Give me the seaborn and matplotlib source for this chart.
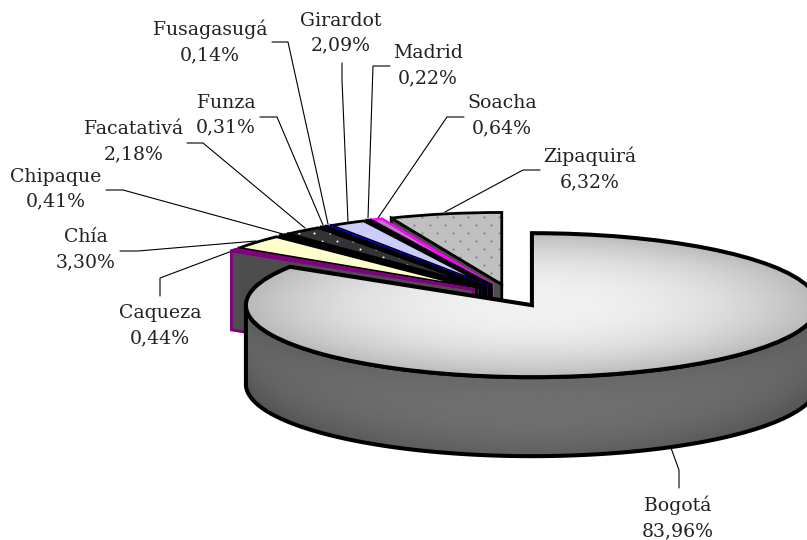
import numpy as np
import seaborn as sns
import matplotlib
matplotlib.use("Agg")
import matplotlib.pyplot as plt
from matplotlib.patches import Wedge, Polygon
from matplotlib.transforms import Affine2D

# data
municipios = ["Bogotá", "Caqueza", "Chía", "Chipaque", "Facatativá", "Funza",
              "Fusagasugá", "Girardot", "Madrid", "Soacha", "Zipaquirá"]
porcentajes = [83.96, 0.44, 3.30, 0.41, 2.18, 0.31, 0.14, 2.09, 0.22, 0.64, 6.32]

# styles, one per slice
rellenos = ["#d0d0d0", "#800080", "#ffffcc", "#000000", "#333333", "#000000",
            "#000080", "#ccccff", "#000000", "#999999", "#c0c0c0"]
bordes = ["black", "#800080", "black", "black", "black", "black",
          "#0000ff", "black", "black", "#ff00ff", "black"]
puntos = {"Facatativá": "white", "Zipaquirá": "#808080"}

# label centres and leader lines, in pixels of the 807x540 picture
pos_etiquetas = [(678, 518), (160, 326), (86, 250), (56, 189), (134, 142), (226, 115),
                 (210, 42), (341, 33), (428, 66), (502, 116), (590, 169)]
guias = [[(671, 448), (679, 470), (679, 488)],
         [(160, 296), (160, 278), (240, 248)],
         [(120, 251), (138, 251), (256, 241)],
         [(106, 190), (123, 190), (283, 234)],
         [(187, 143), (203, 143), (305, 228)],
         [(260, 117), (277, 117), (323, 225)],
         [(272, 42), (288, 42), (328, 224)],
         [(342, 63), (342, 80), (348, 222)],
         [(390, 66), (373, 66), (368, 218)],
         [(464, 117), (447, 117), (378, 218)],
         [(540, 170), (523, 170), (445, 212)]]

# pie centre and squash of the 3D look
CX, CY = 510.5, 295.4
RX, RY = 286.0, 72.0
EXPLOSION = 0.155
ALTO = 79.0 / RY

sns.set_theme(style="white")
plt.rcParams["font.family"] = ["DejaVu Serif"]

fig = plt.figure(figsize=(8.07, 5.4), dpi=100)
ax = fig.add_axes([0, 0, 1, 1])

wedges, _ = ax.pie(porcentajes, startangle=90, counterclock=False,
                   explode=[EXPLOSION] * len(porcentajes),
                   colors=sns.color_palette(rellenos))
ax.set_aspect("auto")
ax.set_autoscale_on(False)
ax.set_xlim(-CX / RX, (807 - CX) / RX)
ax.set_ylim(-(540 - CY) / RY, CY / RY)

pixeles = Affine2D().scale(1, -1).translate(0, 540)


def punto(w, ang, bajada=0.0):
    a = np.deg2rad(ang)
    return (w.center[0] + w.r * np.cos(a), w.center[1] + w.r * np.sin(a) - bajada)


# dotted texture, staggered rows like the original pattern
filas = []
for k, y in enumerate(np.arange(200.7, 300, 8.0)):
    xs = np.arange(268 + (k % 2) * 7.7, 520, 15.4)
    filas.append(np.column_stack([xs, np.full(len(xs), y)]))
trama = np.vstack(filas)

# small slices: back ones first, each with the visible cut face below it
n = len(wedges)
for i in range(1, n):
    w = wedges[i]
    z = 10 * (n - i)
    ap = (w.center[0], w.center[1])
    ap_b = (w.center[0], w.center[1] - ALTO)
    cara = Polygon([ap, punto(w, w.theta2), punto(w, w.theta2, ALTO), ap_b], closed=True,
                   facecolor="#4d4d4d", edgecolor=bordes[i], linewidth=2.0, zorder=z)
    ax.add_patch(cara)
    relleno = Wedge(w.center, w.r, w.theta1, w.theta2, facecolor=rellenos[i],
                    edgecolor="none", zorder=z + 1)
    ax.add_patch(relleno)
    if municipios[i] in puntos:
        sc = ax.scatter(trama[:, 0], trama[:, 1], s=2.2, color=puntos[municipios[i]],
                        linewidths=0, transform=pixeles, zorder=z + 1.5)
        sc.set_clip_path(relleno)
    w.set_facecolor("none")
    w.set_edgecolor(bordes[i])
    w.set_linewidth(2.0)
    w.set_zorder(z + 2)

# Bogotá: wall first, then the top, both with a gradient
w = wedges[0]
z = 10 * n
arco = np.linspace(-180, 0, 200)
arriba = [punto(w, a) for a in arco]
abajo = [punto(w, a, ALTO) for a in arco[::-1]]
pared = Polygon(arriba + abajo, closed=True, facecolor="none", edgecolor="black",
                linewidth=2.9, zorder=z + 1)
ax.add_patch(pared)

u = np.linspace(-1.05, 1.2, 400)
v = np.linspace(-1.2, 2.2, 300)
U, V = np.meshgrid(u, v)
borde_sup = -np.sqrt(np.clip(1 - U ** 2, 0, 1))
t = np.clip((borde_sup - V) / ALTO + 1, 0, 1)
tono = 0.44 - 0.05 * U ** 2 - 0.2 * (t - 0.4) ** 2
ext = (w.center[0] + u[0], w.center[0] + u[-1], w.center[1] + v[0] - ALTO, w.center[1] + v[-1] - ALTO)
im = ax.imshow(tono, cmap="gray", vmin=0, vmax=1, extent=ext, origin="lower",
               aspect="auto", interpolation="bilinear", zorder=z)
im.set_clip_path(Polygon(arriba + abajo, closed=True, transform=ax.transData))

u2 = np.linspace(-1.05, 1.05, 400)
v2 = np.linspace(-1.05, 1.05, 300)
U2, V2 = np.meshgrid(u2, v2)
radio = np.sqrt(U2 ** 2 + V2 ** 2)
tono2 = 0.945 - 0.22 * np.clip(radio, 0, 1) ** 2.4
ext2 = (w.center[0] + u2[0], w.center[0] + u2[-1], w.center[1] + v2[0], w.center[1] + v2[-1])
im2 = ax.imshow(tono2, cmap="gray", vmin=0, vmax=1, extent=ext2, origin="lower",
                aspect="auto", interpolation="bilinear", zorder=z + 2)
im2.set_clip_path(Wedge(w.center, w.r, w.theta1, w.theta2, transform=ax.transData))
w.set_facecolor("none")
w.set_edgecolor("black")
w.set_linewidth(2.9)
w.set_zorder(z + 3)

ax.set_xlim(-CX / RX, (807 - CX) / RX)
ax.set_ylim(-(540 - CY) / RY, CY / RY)

# labels and leader lines
for nombre, valor, (x, y), guia in zip(municipios, porcentajes, pos_etiquetas, guias):
    texto = f"{nombre}\n{valor:.2f}%".replace(".", ",")
    ax.text(x, y, texto, transform=pixeles, ha="center", va="center", fontsize=13.6,
            color="#222222", linespacing=1.5, zorder=300)
    xs, ys = zip(*guia)
    ax.plot(xs, ys, transform=pixeles, color="black", linewidth=0.8, zorder=1)

fig.savefig("out.png", dpi=100, facecolor="white")
